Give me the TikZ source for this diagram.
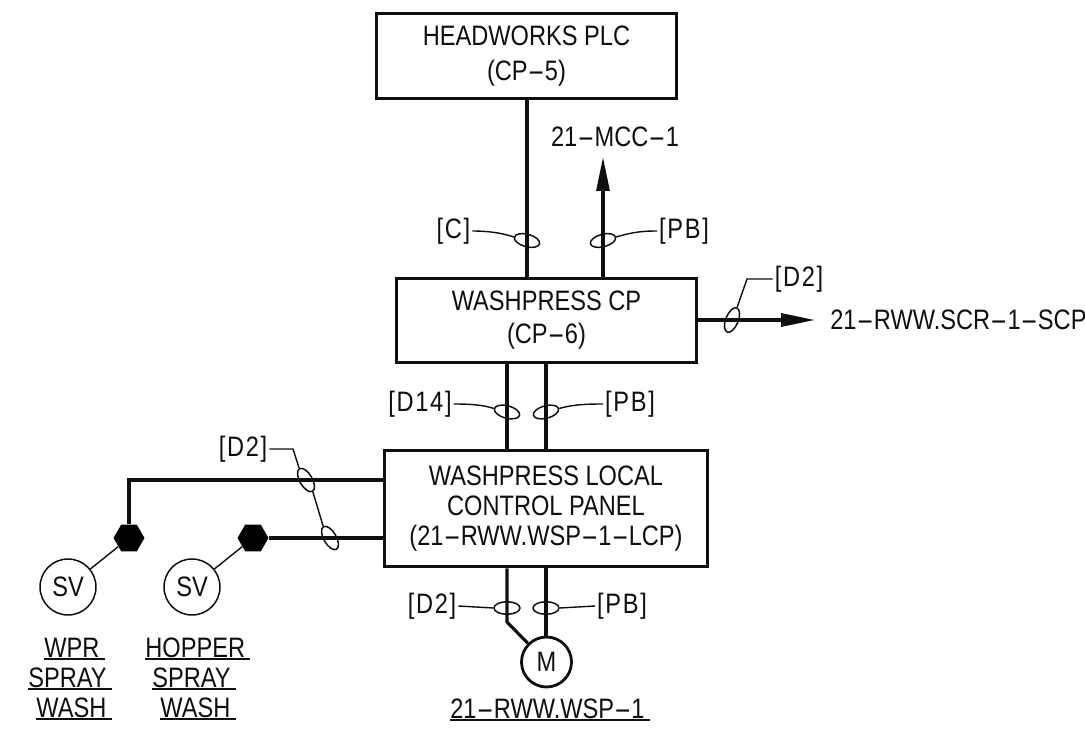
\documentclass[tikz,border=0pt]{standalone}
\usepackage{xcolor}
\usepackage{fontspec}
\setmainfont[FakeStretch=0.84]{Liberation Sans}
\newfontfamily\bracketfont[FakeStretch=0.84,LetterSpace=6]{Liberation Sans}
\usetikzlibrary{shapes.geometric, arrows.meta, positioning, calc}
\definecolor{myink}{RGB}{15,15,15}
\newcommand{\hy}{\scalebox{2.2}[1]{-}}
\newcommand{\panelfont}[1]{\fontsize{16}{#1}\selectfont}
\tikzset{
  panel/.style={rectangle, draw=myink, fill=white, align=center, line width=1.7pt,
    text=myink, inner sep=0pt},
  wire/.style={line width=1.8pt, color=myink},
  arrow/.style={-{Triangle[length=6.8mm,width=2.6mm]}, line width=1.8pt, color=myink},
  tie/.style={ellipse, draw=myink, line width=0.85pt, minimum width=0.52cm,
    minimum height=0.25cm, inner sep=0pt},
  leader/.style={line width=0.8pt, color=myink},
  wlabel/.style={font=\bracketfont\fontsize{16}{18}\selectfont, text=myink, inner sep=1pt},
  dest/.style={font=\fontsize{16}{18}\selectfont, text=myink, inner sep=1pt},
  device/.style={circle, draw=myink, fill=white, font=\fontsize{16}{18}\selectfont,
    text=myink, inner sep=0pt},
  solenoid/.style={regular polygon, regular polygon sides=6, fill=black,
    minimum size=0.62cm, inner sep=0pt},
  tagtext/.style={font=\fontsize{16}{18}\selectfont, text=myink, text height=0.4cm,
    text depth=0pt, inner ysep=0.03cm, inner xsep=0pt, anchor=west},
  underl/.style={line width=0.8pt, color=myink}
}
\begin{document}
\begin{tikzpicture}[x=0.02cm, y=-0.02cm]
  \useasboundingbox (0,0) rectangle (1085,743);

  % Panels
  \node[panel, font=\panelfont{19.8}, minimum width=6.02cm, minimum height=1.71cm] (headworks) at (526.5,56) {HEADWORKS PLC\\(CP\hy5)};
  \node[panel, font=\panelfont{18.7}, minimum width=6.02cm, minimum height=1.7cm] (washcp) at (546.5,320.5) {WASHPRESS CP\\(CP\hy6)};
  \node[panel, font=\panelfont{17.2}, minimum width=6.48cm, minimum height=2.34cm] (lcp) at (546,508.5) {WASHPRESS LOCAL\\CONTROL PANEL\\(21\hy RWW.WSP\hy1\hy LCP)};

  % Wire ties
  \node[tie, rotate=-15] (tieplc) at (527,240.5) {};
  \node[tie, rotate=15] (tiemcc) at (603,240.5) {};
  \node[tie, rotate=68] (tiescr) at (732,320) {};
  \node[tie, rotate=-15] (tieds) at (507,412) {};
  \node[tie, rotate=15] (tiepbu) at (546,412) {};
  \node[tie, rotate=-60] (tiewpr) at (306,480) {};
  \node[tie, rotate=-60] (tiehop) at (330,538) {};
  \node[tie] (tiemot) at (507,608) {};
  \node[tie] (tiepbl) at (546,608) {};

  % Wire labels
  \node[wlabel] (lblc) at (453.5,231) {[C]};
  \node[wlabel] (lblpbt) at (684,231) {[PB]};
  \node[wlabel] (lbldr) at (799,279) {[D2]};
  \node[wlabel] (lbld14) at (420,404) {[D14]};
  \node[wlabel] (lblpbm) at (630,404) {[PB]};
  \node[wlabel] (lbldl) at (243,449) {[D2]};
  \node[wlabel] (lbldm) at (432,606) {[D2]};
  \node[wlabel] (lblpbb) at (622,606) {[PB]};

  % Devices
  \node[device, minimum size=1cm, line width=1.6pt] (motor) at (546.5,662) {M};
  \node[solenoid] (hexwpr) at (129,538) {};
  \node[solenoid] (hexhop) at (253,538) {};
  \node[device, minimum size=1.12cm, line width=0.85pt] (svwpr) at (68,587) {SV};
  \node[device, minimum size=1.12cm, line width=0.85pt] (svhop) at (192,587) {SV};

  % Destinations
  \node[dest] (mcc) at (615,136.5) {21\hy MCC\hy1};
  \node[dest, anchor=west, inner xsep=0.3cm] (scp) at (815,320) {21\hy RWW.SCR\hy1\hy SCP};
  \coordinate (mcctip) at (603,157);
  \coordinate (motbend) at (507,622);
  \coordinate (wprcorner) at (129,480);

  % Wires
  \draw[wire] (headworks.south -| tieplc) -- (washcp.north -| tieplc);
  \draw[arrow] (washcp.north -| mcctip) -- (mcctip);
  \draw[arrow] (washcp.east |- tiescr) -- (scp.west);
  \draw[wire] (washcp.south -| tieds) -- (lcp.north -| tieds);
  \draw[wire] (washcp.south -| tiepbu) -- (lcp.north -| tiepbu);
  \draw[wire] (lcp.south -| motbend) -- (motbend) -- (motor.135);
  \draw[wire] (lcp.south -| tiepbl) -- (motor.north -| tiepbl);
  \draw[wire] (lcp.west |- tiewpr) -- (wprcorner) -- (hexwpr);
  \draw[wire] (lcp.west |- tiehop) -- (hexhop);
  \draw[leader] (hexwpr) -- (svwpr);
  \draw[leader] (hexhop) -- (svhop);

  % Leaders
  \draw[leader] (lblc.east) .. controls +(16,0) and +(-12,-4) .. (tieplc.west);
  \draw[leader] (lblpbt.west) .. controls +(-18,0) and +(14,-4) .. (tiemcc.east);
  \draw[leader] (tiescr.east) -- (747,279) -- (lbldr.west);
  \draw[leader] (lbld14.east) .. controls +(14,0) and +(-12,-4) .. (tieds.west);
  \draw[leader] (lblpbm.west) .. controls +(-16,0) and +(14,-4) .. (tiepbu.east);
  \draw[leader] (lbldl.east) -- (293,449) -- (tiewpr.west);
  \draw[leader] (tiewpr.east) -- (tiehop.west);
  \draw[leader] (lbldm.east) -- (tiemot.west);
  \draw[leader] (lblpbb.west) -- (tiepbl.east);

  % Tags
  \node[tagtext] (tagwpra) at (44,647) {WPR};
  \node[tagtext] (tagwprb) at (28,677) {SPRAY};
  \node[tagtext] (tagwprc) at (36,707) {WASH};
  \node[tagtext] (taghopa) at (145,647) {HOPPER};
  \node[tagtext] (taghopb) at (152,677) {SPRAY};
  \node[tagtext] (taghopc) at (160,707) {WASH};
  \node[tagtext] (tagmotor) at (450,708) {21\hy RWW.WSP\hy1};
  \foreach \tagname in {tagwpra,tagwprb,tagwprc,taghopa,taghopb,taghopc,tagmotor}
    \draw[underl] (\tagname.south west) -- ([xshift=0.1cm]\tagname.south east);
\end{tikzpicture}
\end{document}
